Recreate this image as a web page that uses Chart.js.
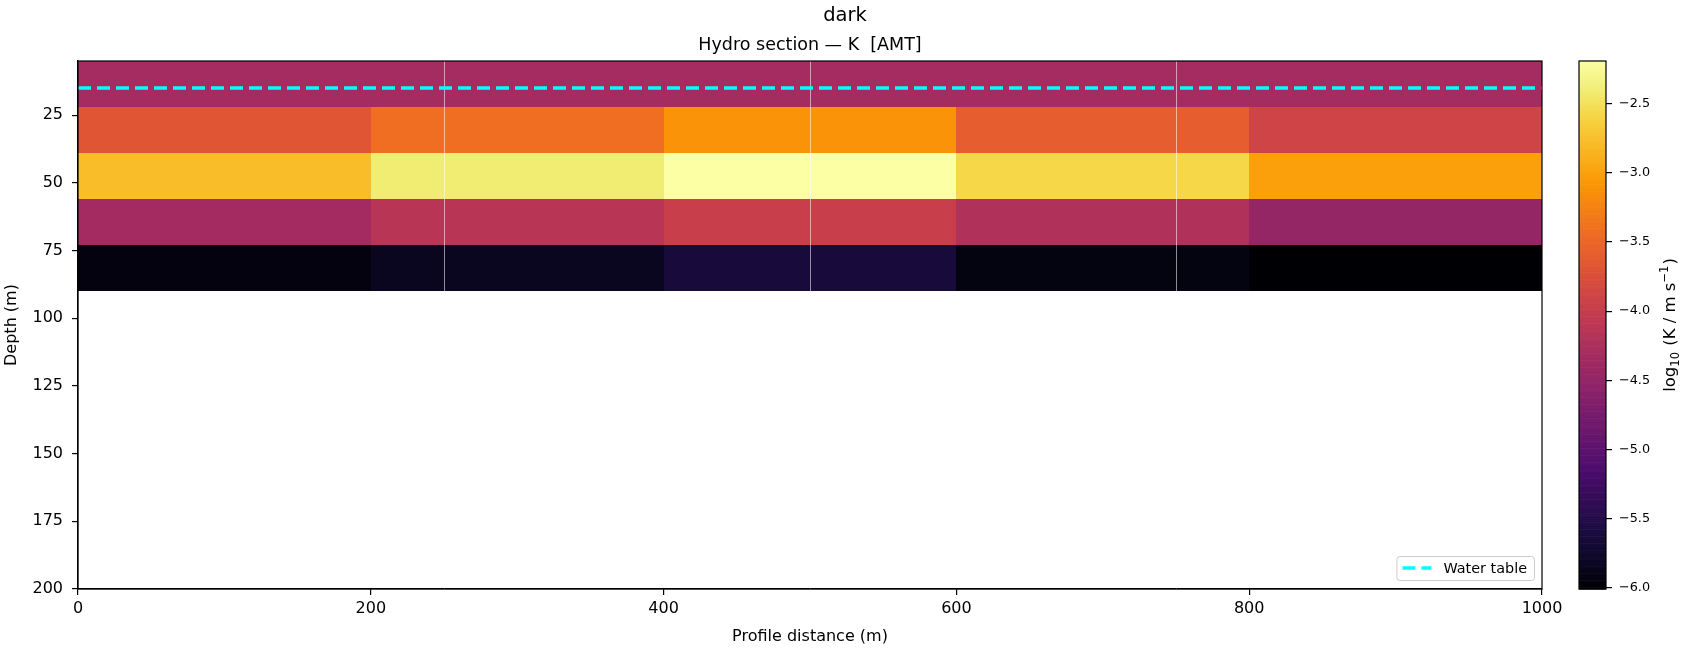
<!DOCTYPE html>
<html>
<head>
<meta charset="utf-8">
<script src="https://cdn.jsdelivr.net/npm/chart.js@4.4.0/dist/chart.umd.min.js"></script>
<style>
  body { margin: 0; background: #fff; }
  #wrap { position: relative; width: 1690px; height: 650px; }
  #main { position: absolute; left: 0; top: 0; }
  #cbar { position: absolute; left: 1560px; top: 0; }
</style>
</head>
<body>
<div id="wrap">
  <canvas id="main" width="1690" height="650"></canvas>
  <canvas id="cbar" width="130" height="650"></canvas>
</div>
<script>
// profile columns (m) and layer boundaries (depth, m)
const xEdges = [0, 200, 400, 600, 800, 1000];
const depthEdges = [5, 22, 39, 56, 73, 90];

// log10(K) per layer, left to right
const layer1 = [-4.31, -4.31, -4.31, -4.31, -4.31];
const layer2 = [-3.67, -3.42, -3.10, -3.59, -3.89];
const layer3 = [-2.77, -2.40, -2.19, -2.57, -3.00];
const layer4 = [-4.33, -4.14, -3.97, -4.21, -4.48];
const layer5 = [-5.95, -5.84, -5.63, -5.94, -6.01];
const layers = [layer1, layer2, layer3, layer4, layer5];

const waterTable = 15;
const gridX = [250, 500, 750];

const xTicks = [0, 200, 400, 600, 800, 1000];
const yTicks = [25, 50, 75, 100, 125, 150, 175, 200];
const cbTicks = [-6.0, -5.5, -5.0, -4.5, -4.0, -3.5, -3.0, -2.5];

const allVals = layers.flat();
const vmin = Math.min(...allVals);
const vmax = Math.max(...allVals);

// inferno colormap (approx stops)
const infernoStops = [
  [0.000, '#000004'], [0.050, '#0b0724'], [0.111, '#1b0c41'], [0.222, '#4a0c6b'],
  [0.250, '#57106e'], [0.333, '#781c6d'], [0.375, '#8a226a'], [0.444, '#a52c60'],
  [0.500, '#bc3754'], [0.556, '#cf4446'], [0.625, '#e45a31'], [0.667, '#ed6925'],
  [0.750, '#f98e09'], [0.778, '#fb9b06'], [0.889, '#f7d13d'], [0.944, '#f1ed71'],
  [1.000, '#fcffa4']
];
function hexRgb(h) {
  return [parseInt(h.slice(1, 3), 16), parseInt(h.slice(3, 5), 16), parseInt(h.slice(5, 7), 16)];
}
function inferno(t) {
  t = Math.max(0, Math.min(1, t));
  for (let i = 1; i < infernoStops.length; i++) {
    const [t1, c1] = infernoStops[i];
    if (t <= t1) {
      const [t0, c0] = infernoStops[i - 1];
      const f = (t - t0) / (t1 - t0);
      const a = hexRgb(c0), b = hexRgb(c1);
      return 'rgb(' + a.map((v, k) => Math.round(v + (b[k] - v) * f)).join(',') + ')';
    }
  }
  return infernoStops[infernoStops.length - 1][1];
}

Chart.defaults.font.family = "'DejaVu Sans'";
Chart.defaults.color = '#000';

const cellsPlugin = {
  id: 'cells',
  beforeDatasetsDraw(chart) {
    const {ctx, chartArea, scales: {x, y}} = chart;
    ctx.save();
    ctx.beginPath();
    ctx.rect(chartArea.left, chartArea.top, chartArea.width, chartArea.height);
    ctx.clip();
    layers.forEach((row, i) => {
      const y0 = Math.round(y.getPixelForValue(depthEdges[i]));
      const y1 = Math.round(y.getPixelForValue(depthEdges[i + 1]));
      row.forEach((v, j) => {
        const x0 = Math.round(x.getPixelForValue(xEdges[j]));
        const x1 = Math.round(x.getPixelForValue(xEdges[j + 1]));
        ctx.fillStyle = inferno((v - vmin) / (vmax - vmin));
        ctx.fillRect(x0, y0, x1 - x0, y1 - y0);
      });
    });
    // faint white grid lines
    ctx.strokeStyle = 'rgba(255,255,255,0.55)';
    ctx.lineWidth = 1;
    gridX.forEach(g => {
      const px = Math.round(x.getPixelForValue(g)) + 0.5;
      ctx.beginPath();
      ctx.moveTo(px, chartArea.top);
      ctx.lineTo(px, chartArea.bottom);
      ctx.stroke();
    });
    ctx.restore();
  }
};

const decorPlugin = {
  id: 'decor',
  afterDraw(chart) {
    const {ctx, chartArea} = chart;
    ctx.save();
    // frame
    ctx.strokeStyle = '#000';
    ctx.lineWidth = 1.2;
    ctx.strokeRect(chartArea.left, chartArea.top, chartArea.width, chartArea.height);

    // titles
    ctx.fillStyle = '#000';
    ctx.textAlign = 'center';
    ctx.textBaseline = 'alphabetic';
    ctx.font = "19.5px 'DejaVu Sans'";
    ctx.fillText('dark', 845, 21);
    ctx.font = "17.5px 'DejaVu Sans'";
    ctx.fillText('Hydro section \u2014 K  [AMT]', (chartArea.left + chartArea.right) / 2, 50);

    // legend (inside, lower right)
    const ds = chart.data.datasets[0];
    ctx.font = "14.4px 'DejaVu Sans'";
    const tw = ctx.measureText(ds.label).width;
    const bw = 6 + 29 + 12 + tw + 7;
    const bh = 24;
    const bx = chartArea.right - 8 - bw;
    const by = chartArea.bottom - 9 - bh;
    ctx.beginPath();
    ctx.roundRect(bx + 0.5, by + 0.5, bw, bh, 3);
    ctx.fillStyle = 'rgba(255,255,255,0.8)';
    ctx.fill();
    ctx.strokeStyle = '#cccccc';
    ctx.lineWidth = 1;
    ctx.stroke();
    const ly = by + bh / 2;
    ctx.strokeStyle = ds.borderColor;
    ctx.lineWidth = ds.borderWidth;
    ctx.setLineDash(ds.borderDash);
    ctx.beginPath();
    ctx.moveTo(bx + 6, ly);
    ctx.lineTo(bx + 35, ly);
    ctx.stroke();
    ctx.setLineDash([]);
    ctx.fillStyle = '#000';
    ctx.textAlign = 'left';
    ctx.textBaseline = 'middle';
    ctx.fillText(ds.label, bx + 47, ly + 1);
    ctx.restore();
  }
};

new Chart(document.getElementById('main'), {
  type: 'line',
  data: {
    datasets: [{
      label: 'Water table',
      data: [{x: xEdges[0], y: waterTable}, {x: xEdges[xEdges.length - 1], y: waterTable}],
      borderColor: '#00ffff',
      borderWidth: 3.5,
      borderDash: [13, 6],
      pointRadius: 0,
      fill: false
    }]
  },
  options: {
    responsive: false,
    animation: false,
    events: [],
    layout: { padding: { top: 61, right: 148, left: 0, bottom: 0 } },
    plugins: { legend: { display: false }, tooltip: { enabled: false } },
    scales: {
      x: {
        type: 'linear',
        min: 0,
        max: 1000,
        afterBuildTicks: s => { s.ticks = xTicks.map(v => ({value: v})); },
        afterFit: s => { s.height = 61; },
        ticks: { font: { size: 16 }, color: '#000', padding: 4, maxRotation: 0, autoSkip: false, callback: v => String(v) },
        grid: { drawOnChartArea: false, tickLength: 6, color: '#000', lineWidth: 1.2 },
        border: { color: '#000', width: 1.2 },
        title: { display: true, text: 'Profile distance (m)', font: { size: 16 }, color: '#000', padding: { top: 0, bottom: 4 } }
      },
      y: {
        type: 'linear',
        reverse: true,
        min: 5,
        max: 200,
        afterBuildTicks: s => { s.ticks = yTicks.map(v => ({value: v})); },
        afterFit: s => { s.width = 78; },
        ticks: { font: { size: 16 }, color: '#000', padding: 9, autoSkip: false, callback: v => String(v) },
        grid: { drawOnChartArea: false, tickLength: 6, color: '#000', lineWidth: 1.2 },
        border: { color: '#000', width: 1.2 },
        title: { display: true, text: 'Depth (m)', font: { size: 16 }, color: '#000', padding: { top: 2, bottom: 0 } }
      }
    }
  },
  plugins: [cellsPlugin, decorPlugin]
});

// colorbar label drawn in pieces: log_10 (K / m s^-1)
const cbLabelParts = [
  ['log', 0], ['10', 1], [' (K / m s', 0], ['\u22121', -1], [')', 0]
];

const cbarPlugin = {
  id: 'cbarFill',
  beforeDatasetsDraw(chart) {
    const {ctx, chartArea, scales: {y}} = chart;
    const n = 300;
    ctx.save();
    for (let i = 0; i < n; i++) {
      const v0 = vmin + (vmax - vmin) * i / n;
      const v1 = vmin + (vmax - vmin) * (i + 1) / n;
      const p0 = y.getPixelForValue(v0), p1 = y.getPixelForValue(v1);
      ctx.fillStyle = inferno(((v0 + v1) / 2 - vmin) / (vmax - vmin));
      ctx.fillRect(chartArea.left, p1, chartArea.width, p0 - p1 + 0.6);
    }
    ctx.restore();
  },
  afterDraw(chart) {
    const {ctx, chartArea} = chart;
    ctx.save();
    ctx.strokeStyle = '#000';
    ctx.lineWidth = 1.2;
    ctx.strokeRect(chartArea.left, chartArea.top, chartArea.width, chartArea.height);
    ctx.translate(1675 - 1560, (chartArea.top + chartArea.bottom) / 2);
    ctx.rotate(-Math.PI / 2);
    ctx.fillStyle = '#000';
    ctx.textBaseline = 'alphabetic';
    const big = "16.5px 'DejaVu Sans'", small = "11.5px 'DejaVu Sans'";
    let total = 0;
    cbLabelParts.forEach(([t, k]) => {
      ctx.font = k === 0 ? big : small;
      total += ctx.measureText(t).width + (k === 0 ? 0 : 1);
    });
    let px = -total / 2;
    cbLabelParts.forEach(([t, k]) => {
      ctx.font = k === 0 ? big : small;
      const dy = k === 1 ? 3.5 : (k === -1 ? -7 : 0);
      ctx.fillText(t, px, dy);
      px += ctx.measureText(t).width + (k === 0 ? 0 : 1);
    });
    ctx.restore();
  }
};

new Chart(document.getElementById('cbar'), {
  type: 'scatter',
  data: { datasets: [] },
  options: {
    responsive: false,
    animation: false,
    events: [],
    layout: { padding: { top: 61, bottom: 61, left: 19, right: 0 } },
    plugins: { legend: { display: false }, tooltip: { enabled: false } },
    scales: {
      x: { display: false },
      y: {
        position: 'right',
        min: vmin,
        max: vmax,
        afterBuildTicks: s => { s.ticks = cbTicks.map(v => ({value: v})); },
        afterFit: s => { s.width = 84; },
        ticks: {
          font: { size: 12.8 }, color: '#000', padding: 7, autoSkip: false,
          callback: v => v.toFixed(1).replace('-', '\u2212')
        },
        grid: { drawOnChartArea: false, tickLength: 6, color: '#000', lineWidth: 1.2 },
        border: { display: false }
      }
    }
  },
  plugins: [cbarPlugin]
});
</script>
</body>
</html>
